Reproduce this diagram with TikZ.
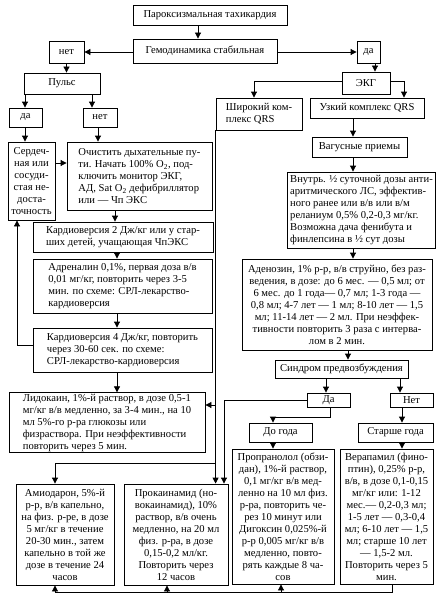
\documentclass[tikz,border=0pt]{standalone}
\usepackage{fontspec}
\setmainfont{Liberation Serif}
\usetikzlibrary{arrows.meta}
\begin{document}
\begin{tikzpicture}[x=1pt,y=-1pt,
  bx/.style={draw, line width=0.85pt, inner xsep=3pt, inner ysep=1pt, font=\fontsize{10.6}{12}\selectfont},
  L/.style={bx, align=left},
  C/.style={bx, align=center},
  arr/.style={line width=0.85pt, -{Triangle[length=6pt,width=6pt]}},
  ln/.style={line width=0.85pt}]
\useasboundingbox (0,0) rectangle (440,602);
\fill[white] (0,0) rectangle (440,602);
% top
\node[C, minimum width=154pt, minimum height=20pt] (par) at (210,15) {Пароксизмальная тахикардия};
\node[C, minimum width=144pt, minimum height=24pt] (gem) at (205,51) {Гемодинамика стабильная};
\node[C, minimum width=35pt, minimum height=22pt] (net1) at (66.5,52) {нет};
\node[C, minimum width=23pt, minimum height=22pt] (da1) at (368.5,52) {да};
\node[C, minimum width=76pt, minimum height=21pt] (puls) at (62,83.5) {Пульс};
\node[C, minimum width=48pt, minimum height=22pt] (ekg) at (366,83) {ЭКГ};
\node[L, minimum width=86pt, minimum height=32pt] (wide) at (259,114) {Широкий ком-\\плекс QRS};
\node[C, minimum width=114pt, minimum height=20pt] (narrow) at (367,108) {Узкий комплекс QRS};
% left branch
\node[C, minimum width=33pt, minimum height=19pt] (da2) at (25.5,117.5) {да};
\node[C, minimum width=34pt, minimum height=19pt] (net2) at (100,117.5) {нет};
\node[C, minimum width=47pt, minimum height=78pt] (serd) at (31.5,181) {Сердеч-\\ная или\\сосуди-\\стая не-\\доста-\\точность};
\node[L, minimum width=145pt, minimum height=68pt] (ochist) at (139.5,176) {Очистить дыхательные пу-\\ти. Начать 100\% O\textsubscript{2}, под-\\ключить монитор ЭКГ,\\АД, Sat O\textsubscript{2} дефибриллятор\\или — Чп ЭКС};
\node[L, minimum width=180pt, minimum height=30pt] (kard2) at (123,237) {Кардиоверсия 2 Дж/кг или у стар-\\ших детей, учащающая ЧпЭКС};
\node[L, minimum width=179pt, minimum height=54pt] (adren) at (122.5,286) {Адреналин 0,1\%, первая доза в/в\\0,01 мг/кг, повторить через 3-5\\мин. по схеме: СРЛ-лекарство-\\кардиоверсия};
\node[L, minimum width=179pt, minimum height=44pt] (kard4) at (122.5,350) {Кардиоверсия 4 Дж/кг, повторить\\через 30-60 сек. по схеме:\\СРЛ-лекарство-кардиоверсия};
\node[L, minimum width=196pt, minimum height=59pt] (lido) at (107,422.5) {Лидокаин, 1\%-й раствор, в дозе 0,5-1\\мг/кг в/в медленно, за 3-4 мин., на 10\\мл 5\%-го р-ра глюкозы или\\физраствора. При неэффективности\\повторить через 5 мин.};
\node[C, minimum width=98pt, minimum height=101pt] (amio) at (65,534.5) {Амиодарон, 5\%-й\\р-р, в/в капельно,\\на физ. р-ре, в дозе\\5 мг/кг в течение\\20-30 мин., затем\\капельно в той же\\дозе в течение 24\\часов};
\node[C, minimum width=104pt, minimum height=101pt] (prok) at (176,534.5) {Прокаинамид (но-\\вокаинамид), 10\%\\раствор, в/в очень\\медленно, на 20 мл\\физ. р-ра, в дозе\\0,15-0,2 мл/кг.\\Повторить через\\12 часов};
% right branch
\node[L, minimum width=95pt, minimum height=20pt] (vag) at (359.5,147) {Вагусные приемы};
\node[L, minimum width=133pt, minimum height=76pt] (vnutr) at (361.5,210) {Внутрь. ½ суточной дозы анти-\\аритмического ЛС, эффектив-\\ного ранее или в/в или в/м\\реланиум 0,5\% 0,2-0,3 мг/кг.\\Возможна дача фенибута и\\финлепсина в ½ сут дозы};
\node[C, minimum width=190pt, minimum height=91pt] (adeno) at (337,304.5) {Аденозин, 1\% р-р, в/в струйно, без раз-\\ведения, в дозе: до 6 мес. — 0,5 мл; от\\6 мес. до 1 года— 0,7 мл; 1-3 года —\\0,8 мл; 4-7 лет — 1 мл; 8-10 лет — 1,5\\мл; 11-14 лет — 2 мл. При неэффек-\\тивности повторить 3 раза с интерва-\\лом в 2 мин.};
\node[C, minimum width=133pt, minimum height=18pt] (synd) at (341.5,369) {Синдром предвозбуждения};
\node[C, minimum width=43pt, minimum height=14pt] (da3) at (328.5,400) {Да};
\node[C, minimum width=43pt, minimum height=14pt] (net3) at (411.5,400) {Нет};
\node[C, minimum width=63pt, minimum height=19pt] (dogoda) at (280.5,432.5) {До года};
\node[C, minimum width=75pt, minimum height=19pt] (starshe) at (395.5,432.5) {Старше года};
\node[C, minimum width=102pt, minimum height=135pt] (propr) at (283,516.5) {Пропранолол (обзи-\\дан), 1\%-й раствор,\\0,1 мг/кг в/в мед-\\ленно на 10 мл физ.\\р-ра, повторить че-\\рез 10 минут или\\Дигоксин 0,025\%-й\\р-р 0,005 мг/кг в/в\\медленно, повто-\\рять каждые 8 ча-\\сов};
\node[C, minimum width=93pt, minimum height=135pt] (vera) at (386.5,516.5) {Верапамил (фино-\\птин), 0,25\% р-р,\\в/в, в дозе 0,1-0,15\\мг/кг или: 1-12\\мес.— 0,2-0,3 мл;\\1-5 лет — 0,3-0,4\\мл; 6-10 лет — 1,5\\мл; старше 10 лет\\— 1,5-2 мл.\\Повторить через 5\\мин.};
% coordinates
\coordinate (ekgL) at (254,81);
\coordinate (ekgR) at (404,81);
\coordinate (kbk) at (17,345);
\coordinate (daturn) at (330,417);
\coordinate (dogturn) at (273,417);
\coordinate (amturn) at (55,463);
\coordinate (dacol) at (224,400);
\coordinate (b1) at (392,592);
\coordinate (b2) at (55,592);
% connectors
\draw[arr] (198,0 |- par.south) -- (198,0 |- gem.north);
\draw[arr] (gem.west |- net1.east) -- (net1.east);
\draw[arr] (gem.east |- da1.west) -- (da1.west);
\draw[arr] (net1.south) -- (net1.south |- puls.north);
\draw[arr] (375,0 |- da1.south) -- (375,0 |- ekg.north);
\draw[arr] (ekg.west |- ekgL) -- (ekgL) -- (ekgL |- wide.north);
\draw[arr] (ekg.east |- ekgR) -- (ekgR) -- (ekgR |- narrow.north);
\draw[arr] (25,0 |- puls.south) -- (25,0 |- da2.north);
\draw[arr] (92,0 |- puls.south) -- (92,0 |- net2.north);
\draw[arr] (25,0 |- da2.south) -- (25,0 |- serd.north);
\draw[arr] (98,0 |- net2.south) -- (98,0 |- ochist.north);
\draw[arr] (serd.east |- 0,163) -- (ochist.west |- 0,163);
\draw[arr] (115,0 |- ochist.south) -- (115,0 |- kard2.north);
\draw[arr] (117,0 |- kard2.south) -- (117,0 |- adren.north);
\draw[arr] (117,0 |- adren.south) -- (117,0 |- kard4.north);
\draw[arr] (117,0 |- kard4.south) -- (117,0 |- lido.north);
\draw[arr] (kard4.west |- kbk) -- (kbk) -- (kbk |- serd.south);
\draw[arr] (353,0 |- narrow.south) -- (353,0 |- vag.north);
\draw[arr] (353,0 |- vag.south) -- (353,0 |- vnutr.north);
\draw[arr] (353,0 |- vnutr.south) -- (353,0 |- adeno.north);
\draw[arr] (348,0 |- adeno.south) -- (348,0 |- synd.north);
\draw[arr] (326,0 |- synd.south) -- (326,0 |- da3.north);
\draw[arr] (400,0 |- synd.south) -- (400,0 |- net3.north);
\draw[arr] (daturn |- da3.south) -- (daturn) -- (dogturn) -- (dogturn |- dogoda.north);
\draw[arr] (402,0 |- net3.south) -- (402,0 |- starshe.north);
\draw[arr] (273,0 |- dogoda.south) -- (273,0 |- propr.north);
\draw[arr] (402,0 |- starshe.south) -- (402,0 |- vera.north);
% wide QRS column
\draw[arr] (wide.south west) -- (wide.south west |- prok.north);
\draw[arr] (wide.south west |- 0,405) -- (lido.east |- 0,405);
\draw[arr] (wide.south west |- amturn) -- (amturn) -- (amturn |- amio.north);
\draw[arr] (da3.west) -- (dacol) -- (dacol |- prok.north);
% bottom return
\draw[ln] (b1 |- vera.south) -- (b1) -- (b2);
\draw[arr] (b2) -- (b2 |- amio.south);
\draw[arr] (167,0 |- b1) -- (167,0 |- prok.south);
\draw[arr] (281,0 |- b1) -- (281,0 |- propr.south);
\end{tikzpicture}
\end{document}
